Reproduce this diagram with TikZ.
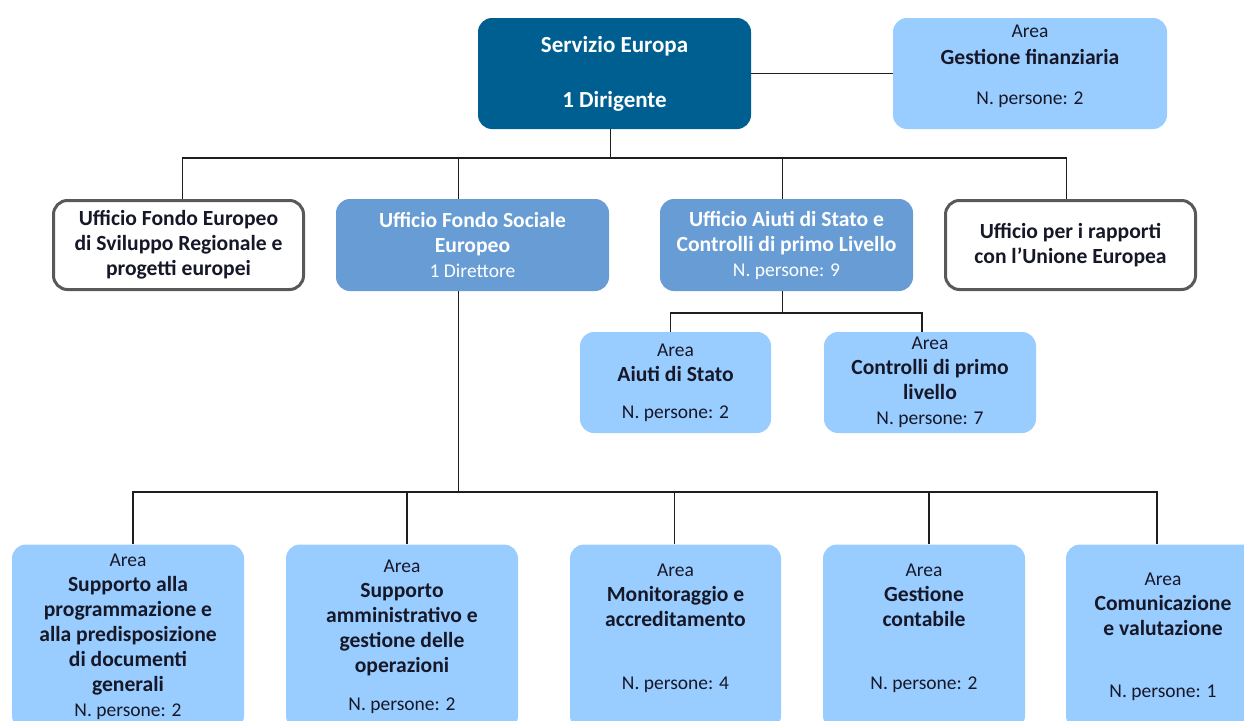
\documentclass[tikz,border=0pt]{standalone}
\usepackage{fontspec}
\setmainfont{Carlito}
\definecolor{dkblue}{RGB}{0,95,145}
\definecolor{ltblue}{RGB}{153,204,255}
\definecolor{mdblue}{RGB}{104,156,212}
\definecolor{bordgray}{RGB}{89,89,89}
\definecolor{txtc}{RGB}{22,24,40}
\definecolor{linec}{RGB}{30,30,30}
\newcommand\boldtxt[1]{{\fontsize{21.6}{25}\selectfont\bfseries #1}}
\begin{document}
\begin{tikzpicture}[x=1pt,y=-1pt,
  box/.style={rounded corners=14pt, align=center, inner sep=2pt, font=\fontsize{19.5}{25}\selectfont},
  dark/.style={box, fill=dkblue, text=white},
  light/.style={box, fill=ltblue, text=txtc},
  midb/.style={box, fill=mdblue, text=white},
  outl/.style={box, fill=white, draw=bordgray, line width=3pt, text=txtc},
  txt/.style={align=center, inner sep=0pt, text=txtc, font=\fontsize{19.5}{25}\selectfont},
  conn/.style={draw=linec, line width=1.2pt}]
\clip (0,0) rectangle (1244,720);
\fill[white] (0,0) rectangle (1244,720);

% level 1
\node[dark, minimum width=273, minimum height=111, font=\fontsize{23}{25}\selectfont\bfseries] (serv) at (614.5,73.5)
  {Servizio Europa\\[30pt]1 Dirigente};
\node[light, minimum width=274, minimum height=111] (gfin) at (1030,73.5) {};
\node[txt] (gfint) at ([yshift=7]gfin.center)
  {Area\\[2pt]\boldtxt{Gestione finanziaria}\\[15pt]N. persone: 2};

% level 2
\node[outl, minimum width=250, minimum height=89] (fesr) at (178.5,245)
  {\boldtxt{Ufficio Fondo Europeo}\\\boldtxt{di Sviluppo Regionale e}\\\boldtxt{progetti europei}};
\node[midb, minimum width=273, minimum height=92] (fse) at (472.5,245)
  {\boldtxt{Ufficio Fondo Sociale}\\\boldtxt{Europeo}\\1 Direttore};
\node[midb, minimum width=253, minimum height=92] (aiuti) at (786.5,245)
  {\boldtxt{Ufficio Aiuti di Stato e}\\\boldtxt{Controlli di primo Livello}\\N. persone: 9};
\node[outl, minimum width=250, minimum height=89] (rapp) at (1070.5,245)
  {\boldtxt{Ufficio per i rapporti}\\\boldtxt{con l’Unione Europea}};

% level 3
\node[light, minimum width=191, minimum height=101] (ads) at (675.5,382.5)
  {Area\\\boldtxt{Aiuti di Stato}\\[12pt]N. persone: 2};
\node[light, minimum width=212, minimum height=101] (ctrl) at (930,382.5)
  {Area\\\boldtxt{Controlli di primo}\\\boldtxt{livello}\\N. persone: 7};

% level 4
\node[light, minimum width=232, minimum height=185] (b1) at (128,637)
  {Area\\\boldtxt{Supporto alla}\\\boldtxt{programmazione e}\\\boldtxt{alla predisposizione}\\\boldtxt{di documenti}\\\boldtxt{generali}\\N. persone: 2};
\node[light, minimum width=232, minimum height=185] (b2) at (402,637)
  {Area\\\boldtxt{Supporto}\\\boldtxt{amministrativo e}\\\boldtxt{gestione delle}\\\boldtxt{operazioni}\\[13pt]N. persone: 2};
\node[light, minimum width=211, minimum height=185] (b3) at (675.5,637) {};
\node[txt] (b3t) at ([yshift=9]b3.center)
  {Area\\\boldtxt{Monitoraggio e}\\\boldtxt{accreditamento}\\[38pt]N. persone: 4};
\node[light, minimum width=202, minimum height=185] (b4) at (924,637) {};
\node[txt] (b4t) at ([yshift=9]b4.center)
  {Area\\\boldtxt{Gestione}\\\boldtxt{contabile}\\[38pt]N. persone: 2};
\node[light, minimum width=194, minimum height=185] (b5) at (1163,637)
  {Area\\\boldtxt{Comunicazione}\\\boldtxt{e valutazione}\\[37pt]N. persone: 1};

% buses
\coordinate (busA) at (0,158);
\coordinate (busB) at (0,313);
\coordinate (busC) at (0,492);

% connectors
\draw[conn] (serv.east) -- (gfin.west);
\draw[conn] ([xshift=-4]serv.south) -- ([xshift=-4]serv.south |- busA);
\draw[conn] ([xshift=4]fesr.north) -- ([xshift=4]fesr.north |- busA)
  -- ([xshift=-4]rapp.north |- busA) -- ([xshift=-4]rapp.north);
\draw[conn] ([xshift=-14]fse.north) -- ([xshift=-14]fse.north |- busA);
\draw[conn] ([xshift=-4]aiuti.north) -- ([xshift=-4]aiuti.north |- busA);

\draw[conn] ([xshift=-4]aiuti.south) -- ([xshift=-4]aiuti.south |- busB);
\draw[conn] ([xshift=-5]ads.north) -- ([xshift=-5]ads.north |- busB)
  -- ([xshift=-8]ctrl.north |- busB) -- ([xshift=-8]ctrl.north);

\draw[conn] ([xshift=-14]fse.south) -- ([xshift=-14]fse.south |- busC);
\draw[conn] ([xshift=5]b1.north) -- ([xshift=5]b1.north |- busC)
  -- ([xshift=-6]b5.north |- busC) -- ([xshift=-6]b5.north);
\draw[conn] ([xshift=5]b2.north) -- ([xshift=5]b2.north |- busC);
\draw[conn] ([xshift=-1]b3.north) -- ([xshift=-1]b3.north |- busC);
\draw[conn] ([xshift=5]b4.north) -- ([xshift=5]b4.north |- busC);
\end{tikzpicture}
\end{document}
